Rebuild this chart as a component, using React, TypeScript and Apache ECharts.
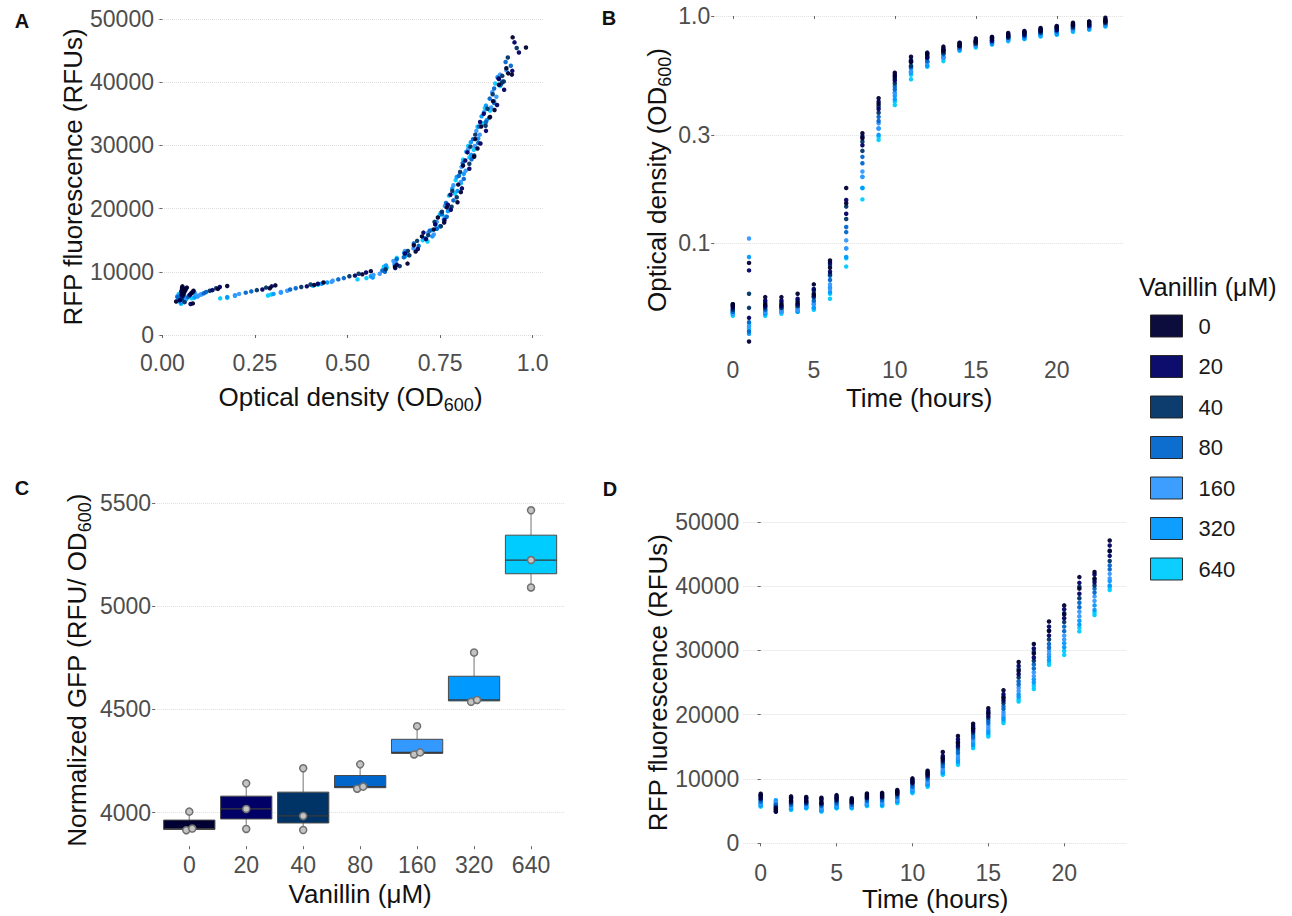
import React, { useEffect, useRef } from "react";
import * as echarts from "echarts";

const FONT = "'Liberation Sans', Arial, Helvetica, sans-serif";

const concentrations = ["0", "20", "40", "80", "160", "320", "640"];
const concColors = ["#000033", "#000066", "#003366", "#0066CC", "#3399FF", "#0099FF", "#00CCFF"];
const hours = [0, 1, 2, 3, 4, 5, 6, 7, 8, 9, 10, 11, 12, 13, 14, 15, 16, 17, 18, 19, 20, 21, 22, 23];

// OD600 per vanillin concentration: [replicate 1, replicate 2] at each hour
const od_0 = [[0.054,0.053],[0.082,0.037],[0.058,0.054],[0.058,0.054],[0.060,0.055],[0.066,0.060],[0.084,0.078],[0.175,0.150],[0.305,0.290],[0.435,0.410],[0.563,0.540],[0.662,0.628],[0.679,0.684],[0.733,0.701],[0.744,0.761],[0.797,0.768],[0.799,0.806],[0.842,0.812],[0.845,0.851],[0.885,0.861],[0.893,0.897],[0.934,0.909],[0.929,0.944],[0.946,0.982]];
const od_20 = [[0.053,0.052],[0.076,0.047],[0.056,0.053],[0.056,0.053],[0.057,0.054],[0.063,0.059],[0.082,0.075],[0.155,0.135],[0.295,0.270],[0.420,0.390],[0.550,0.520],[0.633,0.629],[0.690,0.655],[0.705,0.712],[0.762,0.737],[0.771,0.779],[0.809,0.778],[0.818,0.829],[0.859,0.824],[0.858,0.874],[0.904,0.868],[0.909,0.923],[0.945,0.908],[0.951,0.963]];
const od_40 = [[0.054,0.051],[0.060,0.052],[0.055,0.052],[0.055,0.052],[0.056,0.053],[0.062,0.058],[0.080,0.073],[0.145,0.128],[0.280,0.255],[0.400,0.375],[0.530,0.505],[0.641,0.603],[0.663,0.667],[0.718,0.688],[0.735,0.752],[0.781,0.755],[0.783,0.795],[0.829,0.804],[0.832,0.842],[0.873,0.845],[0.878,0.883],[0.917,0.892],[0.918,0.922],[0.957,0.933]];
const od_80 = [[0.051,0.050],[0.045,0.041],[0.053,0.051],[0.053,0.052],[0.054,0.053],[0.058,0.056],[0.072,0.069],[0.118,0.112],[0.240,0.225],[0.360,0.345],[0.490,0.475],[0.594,0.601],[0.652,0.633],[0.679,0.692],[0.741,0.722],[0.755,0.768],[0.786,0.766],[0.801,0.814],[0.835,0.811],[0.839,0.853],[0.874,0.855],[0.884,0.896],[0.914,0.896],[0.927,0.941]];
const od_160 = [[0.050,0.049],[0.105,0.043],[0.051,0.050],[0.051,0.050],[0.052,0.051],[0.055,0.054],[0.066,0.063],[0.103,0.095],[0.207,0.196],[0.337,0.320],[0.460,0.457],[0.587,0.570],[0.624,0.631],[0.678,0.655],[0.718,0.733],[0.760,0.741],[0.763,0.777],[0.806,0.786],[0.808,0.819],[0.844,0.826],[0.848,0.857],[0.888,0.869],[0.891,0.902],[0.929,0.912]];
const od_320 = [[0.049,0.050],[0.087,0.040],[0.050,0.049],[0.051,0.050],[0.052,0.050],[0.054,0.052],[0.064,0.061],[0.095,0.087],[0.196,0.175],[0.320,0.300],[0.445,0.430],[0.563,0.568],[0.627,0.604],[0.653,0.661],[0.729,0.708],[0.737,0.750],[0.771,0.752],[0.783,0.797],[0.814,0.795],[0.821,0.834],[0.853,0.833],[0.862,0.876],[0.896,0.874],[0.905,0.918]];
const od_640 = [[0.048,0.049],[0.044,0.042],[0.049,0.048],[0.050,0.049],[0.051,0.050],[0.052,0.051],[0.060,0.057],[0.086,0.079],[0.175,0.156],[0.294,0.285],[0.420,0.406],[0.551,0.527],[0.598,0.606],[0.655,0.633],[0.703,0.716],[0.742,0.727],[0.749,0.763],[0.790,0.774],[0.792,0.806],[0.829,0.812],[0.826,0.841],[0.868,0.851],[0.871,0.885],[0.899,0.912]];

// RFP fluorescence (RFU) per vanillin concentration: [replicate 1, replicate 2] at each hour
const rfu_0 = [[7700,7300],[5000,5300],[7300,6700],[7200,6600],[7100,6400],[7500,7000],[7000,6600],[7750,7300],[7850,7400],[8300,7900],[10100,9600],[11300,10800],[14200,13200],[16700,15600],[18600,17800],[21000,20200],[23800,22600],[28200,26800],[31000,29500],[34500,33000],[37000,35600],[41400,39600],[42200,41200],[47100,45500]];
const rfu_20 = [[7500,7000],[4900,5500],[7100,6500],[7000,6500],[6900,6200],[7300,6800],[6800,6400],[7600,7100],[7700,7200],[8100,7700],[9900,9400],[11100,10600],[13600,12900],[16200,15200],[18200,17500],[20600,19800],[23200,22200],[27600,26300],[30300,28900],[33700,32300],[36400,35000],[40500,38800],[41800,40600],[46300,44700]];
const rfu_40 = [[7400,6900],[5200,5600],[7000,6300],[6900,6300],[6700,6100],[7100,6600],[6700,6300],[7400,7000],[7500,7100],[8000,7600],[9700,9300],[10900,10400],[13300,12600],[15800,14900],[17900,17200],[20300,19500],[22800,21800],[27100,25800],[29800,28400],[33100,31700],[35800,34400],[39900,38100],[41000,40100],[45400,43900]];
const rfu_80 = [[6700,6500],[5800,6000],[6200,6000],[6200,6100],[6000,5800],[6400,6200],[6200,6000],[6800,6600],[6900,6700],[7400,7200],[9000,8800],[10200,10000],[12300,12000],[14500,14100],[16800,16500],[19100,18700],[21300,20900],[25200,24700],[27800,27200],[31000,30400],[33700,33000],[37400,36700],[39600,39000],[43200,42600]];
const rfu_160 = [[6300,6100],[6400,6200],[5900,5700],[5900,5800],[5600,5400],[6000,5800],[5900,5800],[6400,6200],[6500,6300],[7000,6800],[8600,8400],[9700,9500],[11700,11400],[13700,13300],[16200,15900],[18300,17900],[20400,20000],[24200,23700],[26600,26000],[29900,29400],[32300,31700],[36000,35300],[38400,37700],[41900,41200]];
const rfu_320 = [[6200,5900],[6700,6100],[5600,5400],[5700,5600],[5300,5100],[5700,5600],[5700,5600],[6100,6000],[6200,6000],[6700,6500],[8300,8100],[9300,9100],[11200,11000],[13000,12700],[15600,15300],[17500,17200],[19600,19300],[23200,22800],[25500,25000],[29000,28500],[31100,30500],[34600,34000],[37000,36300],[40800,40100]];
const rfu_640 = [[5900,5700],[6500,5900],[5300,5200],[5500,5450],[5000,4950],[5500,5450],[5500,5450],[5900,5800],[5900,5800],[6400,6250],[7950,7800],[9000,8800],[10800,10650],[12400,12200],[15000,14800],[16900,16600],[19000,18700],[22400,22050],[24500,24000],[28100,27750],[29900,29300],[33500,32950],[35900,35500],[39800,39400]];

// Normalized GFP (RFU / OD600), three replicates per concentration
const gfp_0 = [3915, 3923, 4005];
const gfp_20 = [3921, 4018, 4142];
const gfp_40 = [3916, 3984, 4215];
const gfp_80 = [4116, 4126, 4234];
const gfp_160 = [4282, 4292, 4419];
const gfp_320 = [4537, 4546, 4776];
const gfp_640 = [5091, 5224, 5465];

// Tick values and labels
const odTicksA = [0, 0.25, 0.5, 0.75, 1];
const odTickLabelsA = ["0.00", "0.25", "0.50", "0.75", "1.0"];
const rfuTicks = [0, 10000, 20000, 30000, 40000, 50000];
const rfuTickLabels = ["0", "10000", "20000", "30000", "40000", "50000"];
const odLogTicks = [0.1, 0.3, 1];
const odLogTickLabels = ["0.1", "0.3", "1.0"];
const hourTicks = [0, 5, 10, 15, 20];
const hourTickLabels = ["0", "5", "10", "15", "20"];
const gfpTicks = [4000, 4500, 5000, 5500];
const gfpTickLabels = ["4000", "4500", "5000", "5500"];

const odSets = [od_0, od_20, od_40, od_80, od_160, od_320, od_640];
const rfuSets = [rfu_0, rfu_20, rfu_40, rfu_80, rfu_160, rfu_320, rfu_640];
const gfpSets = [gfp_0, gfp_20, gfp_40, gfp_80, gfp_160, gfp_320, gfp_640];

function labelFor(ticks: number[], labels: string[]) {
  return (v: number) => {
    const i = ticks.findIndex((t) => Math.abs(t - v) < 1e-6 * Math.max(1, Math.abs(t)));
    return i >= 0 ? labels[i] : "";
  };
}

function quantile7(vals: number[], p: number) {
  const s = vals.slice().sort((a, b) => a - b);
  const h = (s.length - 1) * p;
  const lo = Math.floor(h);
  const hi = Math.min(lo + 1, s.length - 1);
  return s[lo] + (h - lo) * (s[hi] - s[lo]);
}

const tickLabelStyle = { fontSize: 23, color: "#4d4d4d", fontFamily: FONT };
const tickStyle = { show: true, length: 3, lineStyle: { color: "#666", width: 1 } };
const gridLine = { show: true, lineStyle: { color: "#dedede", width: 1, type: "dotted" } };
const richNameStyle = {
  fontFamily: FONT,
  fontSize: 26,
  color: "#111",
  lineHeight: 34,
  rich: {
    n: { fontFamily: FONT, fontSize: 26, color: "#111", lineHeight: 34 },
    s: { fontFamily: FONT, fontSize: 18, color: "#111", lineHeight: 18, verticalAlign: "bottom" },
  },
};
const plainNameStyle = { fontFamily: FONT, fontSize: 26, color: "#111", lineHeight: 26 };
const nameStyleFor = (name: string) => (name.indexOf("{") >= 0 ? richNameStyle : plainNameStyle);

function valueX(gridIndex: number, min: number, max: number, ticks: number[], labels: string[], margin: number, name: string, nameGap: number) {
  return {
    type: "value",
    gridIndex,
    position: "bottom",
    min,
    max,
    axisLine: { show: false },
    axisTick: { ...tickStyle, customValues: ticks },
    axisLabel: { ...tickLabelStyle, customValues: ticks, formatter: labelFor(ticks, labels), margin },
    splitLine: { show: false },
    name,
    nameLocation: "middle",
    nameGap,
    nameTextStyle: nameStyleFor(name),
  };
}

function valueY(gridIndex: number, min: number, max: number, ticks: number[], labels: string[], name: string, nameGap: number) {
  return {
    type: "value",
    gridIndex,
    position: "left",
    min,
    max,
    axisLine: { show: false },
    axisTick: { ...tickStyle, customValues: ticks },
    axisLabel: { ...tickLabelStyle, customValues: ticks, formatter: labelFor(ticks, labels), margin: 4 },
    splitLine: gridLine,
    name,
    nameLocation: "middle",
    nameGap,
    nameTextStyle: nameStyleFor(name),
  };
}

function buildOption() {
  const drawOrder = [6, 5, 4, 3, 2, 1, 0];
  const dot = (c: number) => ({ color: concColors[c], opacity: 0.95 });

  const aSeries = drawOrder.map((c) => ({
    type: "scatter",
    name: concentrations[c],
    xAxisIndex: 0,
    yAxisIndex: 0,
    symbolSize: 4.5,
    itemStyle: dot(c),
    data: hours.flatMap((h, i) => odSets[c][i].map((od, r) => [od, rfuSets[c][i][r]])),
  }));
  const bSeries = drawOrder.map((c) => ({
    type: "scatter",
    name: concentrations[c],
    xAxisIndex: 1,
    yAxisIndex: 1,
    symbolSize: 4.5,
    itemStyle: dot(c),
    data: hours.flatMap((h, i) => odSets[c][i].map((od) => [h, od])),
  }));
  const dSeries = drawOrder.map((c) => ({
    type: "scatter",
    name: concentrations[c],
    xAxisIndex: 3,
    yAxisIndex: 4,
    symbolSize: 4.5,
    itemStyle: dot(c),
    data: hours.flatMap((h, i) => rfuSets[c][i].map((v) => [h, v])),
  }));

  const boxData = gfpSets.map((vals, i) => [
    i + 1,
    Math.min(...vals),
    quantile7(vals, 0.25),
    quantile7(vals, 0.5),
    quantile7(vals, 0.75),
    Math.max(...vals),
  ]);

  const pointData: any[] = [];
  gfpSets.forEach((vals, i) => {
    const s = vals.slice().sort((a, b) => a - b);
    const off = s.map(() => 0);
    for (let k = 0; k < s.length - 1; k++) {
      if (s[k + 1] - s[k] < 15) {
        off[k] = -3;
        off[k + 1] = 3;
      }
    }
    s.forEach((v, k) => pointData.push({ value: [i + 1, v], symbolOffset: [off[k], 0] }));
  });

  const boxSeries = {
    type: "custom",
    xAxisIndex: 2,
    yAxisIndex: 3,
    encode: { x: 0, y: [1, 2, 3, 4, 5] },
    data: boxData,
    z: 3,
    renderItem: (params: any, api: any) => {
      const x = api.value(0);
      const [cx, yLo] = api.coord([x, api.value(1)]);
      const yQ1 = api.coord([x, api.value(2)])[1];
      const yMed = api.coord([x, api.value(3)])[1];
      const yQ3 = api.coord([x, api.value(4)])[1];
      const yHi = api.coord([x, api.value(5)])[1];
      const w = api.size([0.9, 0])[0];
      const whisker = { stroke: "#8c8c8c", lineWidth: 1.2 };
      return {
        type: "group",
        children: [
          { type: "line", shape: { x1: cx, y1: yQ3, x2: cx, y2: yHi }, style: whisker },
          { type: "line", shape: { x1: cx, y1: yQ1, x2: cx, y2: yLo }, style: whisker },
          {
            type: "rect",
            shape: { x: cx - w / 2, y: yQ3, width: w, height: yQ1 - yQ3 },
            style: { fill: concColors[params.dataIndex], stroke: "#4a4a4a", lineWidth: 1 },
          },
          { type: "line", shape: { x1: cx - w / 2, y1: yMed, x2: cx + w / 2, y2: yMed }, style: { stroke: "#3a3a3a", lineWidth: 1.3 } },
        ],
      };
    },
  };

  const pointSeries = {
    type: "scatter",
    name: "replicates",
    xAxisIndex: 2,
    yAxisIndex: 3,
    z: 5,
    symbol: "circle",
    symbolSize: 7,
    itemStyle: { color: "#c4c4c4", borderColor: "#707070", borderWidth: 1.5, opacity: 1 },
    data: pointData,
  };

  const catTicks = concentrations.map((_, i) => i + 1);
  const odName = "{n|Optical density (OD}{s|600}{n|)}";
  const letter = (text: string, x: number, y: number) => ({
    type: "text",
    x,
    y,
    style: { text, fontSize: 20, fontWeight: "bold", fontFamily: FONT, fill: "#111", align: "center", verticalAlign: "middle", textAlign: "center", textVerticalAlign: "middle" },
  });

  return {
    animation: false,
    backgroundColor: "#ffffff",
    textStyle: { fontFamily: FONT },
    grid: [
      { left: 158, top: 3.2, width: 385, height: 347.6, outerBoundsMode: "none" },
      { left: 714.2, top: 2.1, width: 409.8, height: 355.8, outerBoundsMode: "none" },
      { left: 155.1, top: 494.3, width: 410.1, height: 351.9, outerBoundsMode: "none" },
      { left: 743.25, top: 505.7, width: 383.9, height: 353.7, outerBoundsMode: "none" },
    ],
    xAxis: [
      valueX(0, -0.012, 1.028, odTicksA, odTickLabelsA, 1, odName, 29),
      valueX(1, -1.15, 24.15, hourTicks, hourTickLabels, 1, "Time (hours)", 27),
      valueX(2, 0.4, 7.6, catTicks, concentrations, 7, "Vanillin (μM)", 35),
      valueX(3, -1.15, 24.15, hourTicks, hourTickLabels, 2, "Time (hours)", 26.5),
    ],
    yAxis: [
      valueY(0, -2500, 52500, rfuTicks, rfuTickLabels, "RFP fluorescence (RFUs)", 72),
      { type: "log", logBase: 10, gridIndex: 1, position: "right", min: 0.03133, max: 1.1508, show: false },
      valueY(1, Math.log10(0.03133), Math.log10(1.1508), odLogTicks.map((t) => Math.log10(t)), odLogTickLabels, odName, 40),
      valueY(2, 3837.5, 5542.5, gfpTicks, gfpTickLabels, "{n|Normalized GFP (RFU/ OD}{s|600}{n|)}", 61),
      valueY(3, -2500, 52500, rfuTicks, rfuTickLabels, "RFP fluorescence (RFUs)", 71),
    ],
    legend: {
      data: concentrations.map((name) => ({ name, icon: "rect" })),
      orient: "vertical",
      left: 1145,
      top: 309.5,
      itemWidth: 32,
      itemHeight: 22,
      itemGap: 17.5,
      selectedMode: false,
      textStyle: { fontSize: 22, color: "#1a1a1a", fontFamily: FONT, padding: [0, 0, 0, 11] },
      itemStyle: { borderColor: "#222", borderWidth: 1 },
    },
    graphic: [
      letter("A", 22, 21),
      letter("B", 609, 18),
      letter("C", 22, 488),
      letter("D", 610, 489),
      {
        type: "text",
        x: 1139,
        y: 287,
        style: { text: "Vanillin (μM)", fontSize: 25, fontFamily: FONT, fill: "#111", align: "left", verticalAlign: "middle", textAlign: "left", textVerticalAlign: "middle" },
      },
    ],
    series: [...aSeries, ...bSeries, boxSeries, pointSeries, ...dSeries],
  };
}

export default function App() {
  const ref = useRef<HTMLDivElement>(null);
  useEffect(() => {
    if (!ref.current) return;
    const chart = echarts.init(ref.current, null, { renderer: "svg" });
    chart.setOption(buildOption() as any);
    return () => chart.dispose();
  }, []);
  return (
    <div
      ref={ref}
      style={{ position: "absolute", left: 0, top: 0, width: 1292, height: 916, background: "#ffffff" }}
    />
  );
}
